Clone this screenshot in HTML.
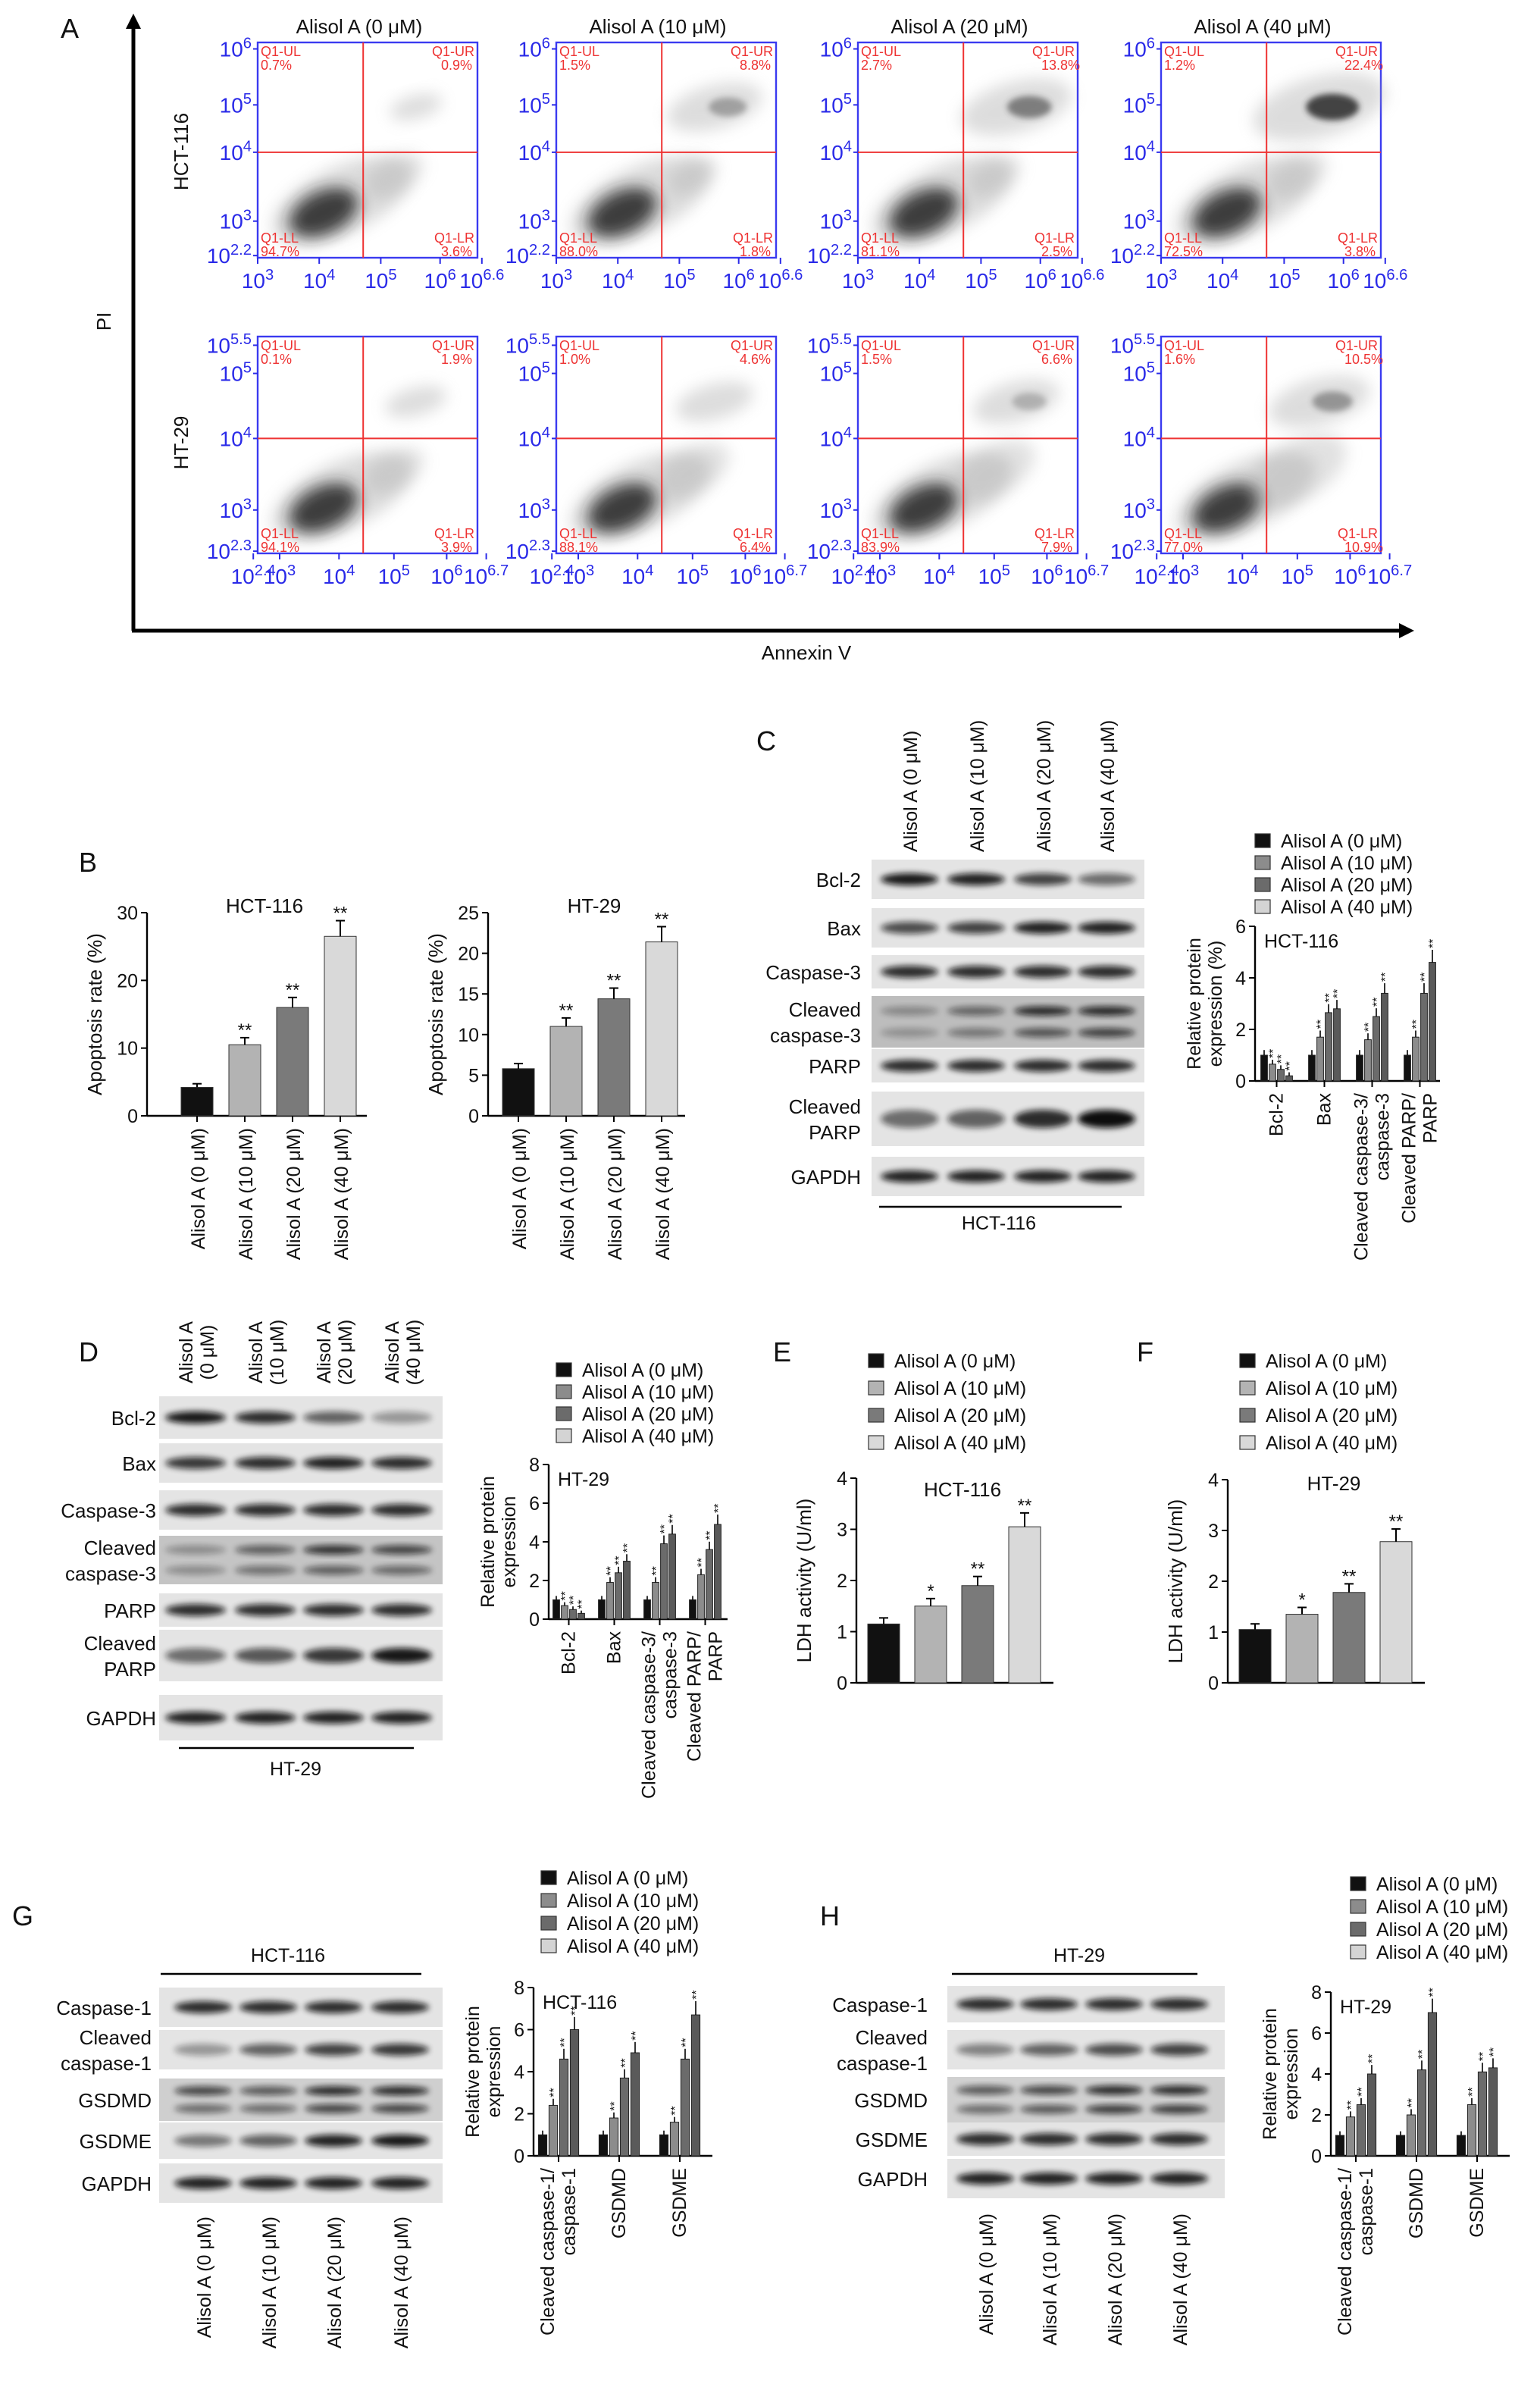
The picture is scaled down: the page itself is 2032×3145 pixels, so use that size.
<!DOCTYPE html>
<html><head><meta charset="utf-8"><style>
html,body{margin:0;padding:0;background:#fff;}
svg{display:block;font-family:"Liberation Sans",Arial,sans-serif;}
</style></head><body>
<svg id="fig" xmlns="http://www.w3.org/2000/svg" width="2032" height="3145" viewBox="0 0 1016 1572.5">
<defs>
<filter id="blur2" x="-50%" y="-50%" width="200%" height="200%"><feGaussianBlur stdDeviation="2"/></filter>
<filter id="blur5" x="-50%" y="-50%" width="200%" height="200%"><feGaussianBlur stdDeviation="5"/></filter>
<filter id="blur1" x="-50%" y="-50%" width="200%" height="200%"><feGaussianBlur stdDeviation="1.2"/></filter>
<marker id="arr" markerWidth="10" markerHeight="10" refX="5" refY="5" orient="auto" markerUnits="userSpaceOnUse"><path d="M0,0 L10,5 L0,10z" fill="#000"/></marker>
</defs>
</svg>
<script>
// ---------- data ----------
const doses = ["Alisol A (0 μM)","Alisol A (10 μM)","Alisol A (20 μM)","Alisol A (40 μM)"];
const flowUL1 = [0.7,1.5,2.7,1.2], flowUR1 = [0.9,8.8,13.8,22.4], flowLL1 = [94.7,88.0,81.1,72.5], flowLR1 = [3.6,1.8,2.5,3.8];
const flowUL2 = [0.1,1.0,1.5,1.6], flowUR2 = [1.9,4.6,6.6,10.5], flowLL2 = [94.1,88.1,83.9,77.0], flowLR2 = [3.9,6.4,7.9,10.9];
const apopHCT = [4.2,10.5,16.0,26.5];
const apopHT = [5.8,11.0,14.4,21.4];
const groupsC = ["Bcl-2","Bax","Cleaved caspase-3/|caspase-3","Cleaved PARP/|PARP"];
const valsC = [[1,0.65,0.45,0.2],[1,1.7,2.65,2.8],[1,1.6,2.5,3.4],[1,1.7,3.4,4.6]];
const groupsD = ["Bcl-2","Bax","Cleaved caspase-3/|caspase-3","Cleaved PARP/|PARP"];
const valsD = [[1,0.7,0.5,0.3],[1,1.9,2.4,3.0],[1,1.9,3.9,4.4],[1,2.3,3.6,4.9]];
const ldhHCT = [1.15,1.5,1.9,3.05];
const ldhHT = [1.05,1.35,1.78,2.78];
const groupsG = ["Cleaved caspase-1/|caspase-1","GSDMD","GSDME"];
const valsG = [[1,2.4,4.6,6.0],[1,1.8,3.7,4.9],[1,1.6,4.6,6.7]];
const valsH = [[1,1.9,2.5,4.0],[1,2.0,4.2,7.0],[1,2.5,4.1,4.3]];
const stars4 = ["","**","**","**"];
const starsLDH = ["","*","**","**"];

const NS="http://www.w3.org/2000/svg";
const svg=document.getElementById('fig');
function el(tag,attrs,parent,text){const e=document.createElementNS(NS,tag);for(const k in attrs)e.setAttribute(k,attrs[k]);if(text!==undefined)e.textContent=text;(parent||svg).appendChild(e);return e;}
function grp(name,parent){const g=el('g',{},parent);return g;}
function txt(p,x,y,s,size,opts){opts=opts||{};const t=el('text',{x:x,y:y,'font-size':size,fill:opts.fill||'#111','text-anchor':opts.anchor||'start'},p,s);if(opts.rot!==undefined)t.setAttribute('transform','rotate('+opts.rot+' '+x+' '+y+')');if(opts.name){}return t;}
function pow(p,x,y,base,exp,size,fill,anchor){const t=el('text',{x:x,y:y,'font-size':size,fill:fill,'text-anchor':anchor||'start'},p);el('tspan',{},t,base);el('tspan',{dy:-size*0.4,'font-size':size*0.72},t,exp);return t;}

// ---------- Panel A ----------
const gA=grp('panel-a');
txt(gA,40,25,'A',18,{name:'panel-label-a'});
el('line',{x1:88,y1:416,x2:88,y2:14,stroke:'#000','stroke-width':2.5,'marker-end':'url(#arr)'},gA);
el('line',{x1:87,y1:416,x2:928,y2:416,stroke:'#000','stroke-width':2.5,'marker-end':'url(#arr)'},gA);
txt(gA,73,212,'PI',13,{rot:-90,anchor:'middle',name:'y-axis-title-pi'});
txt(gA,532,435,'Annexin V',13,{anchor:'middle',name:'x-axis-title-annexin'});
txt(gA,124,100,'HCT-116',13,{rot:-90,anchor:'middle',name:'row-label-hct116'});
txt(gA,124,292,'HT-29',13,{rot:-90,anchor:'middle',name:'row-label-ht29'});
const bx=[170,367,566,766];
function flow(row,i){
  const x0=bx[i],w=145,y0=row?222:28,h=row?143:142;
  const g=grp('flow-plot-'+(row?'ht29':'hct116')+'-'+i,gA);
  if(!row) txt(g,x0+67,22,doses[i],13,{anchor:'middle',name:'flow-title'});
  el('rect',{x:x0,y:y0,width:w,height:h,fill:'#fff',stroke:'#3a3af0','stroke-width':1.2},g);
  const ur=(row?flowUR2:flowUR1)[i], lr=(row?flowLR2:flowLR1)[i];
  const cx=x0+w*0.3, cy=y0+h*0.79;
  el('ellipse',{cx:cx+12,cy:cy-8,rx:50,ry:22,fill:'#999',opacity:0.35,filter:'url(#blur5)',transform:'rotate(-25 '+(cx+12)+' '+(cy-8)+')'},g);
  el('ellipse',{cx:cx,cy:cy,rx:24,ry:14,fill:'#222',opacity:0.85,filter:'url(#blur5)',transform:'rotate(-25 '+cx+' '+cy+')'},g);
  const sc=Math.sqrt(ur)*4+6;
  el('ellipse',{cx:x0+w*0.72,cy:y0+h*0.3,rx:sc*1.8,ry:sc*0.8,fill:'#aaa',opacity:0.4,filter:'url(#blur5)',transform:'rotate(-15 '+(x0+w*0.72)+' '+(y0+h*0.3)+')'},g);
  if(ur>5) el('ellipse',{cx:x0+w*0.78,cy:y0+h*0.3,rx:sc*0.7,ry:sc*0.35,fill:'#333',opacity:Math.min(0.9,ur/25),filter:'url(#blur2)'},g);
  el('ellipse',{cx:x0+w*0.62,cy:y0+h*0.62,rx:14+lr*2,ry:8+lr,fill:'#aaa',opacity:0.35,filter:'url(#blur5)',transform:'rotate(-30 '+(x0+w*0.62)+' '+(y0+h*0.62)+')'},g);
  const vx=x0+w*0.48, hy=y0+h*(row?0.47:0.51);
  el('line',{x1:vx,y1:y0,x2:vx,y2:y0+h,stroke:'#e33','stroke-width':1},g);
  el('line',{x1:x0,y1:hy,x2:x0+w,y2:hy,stroke:'#e33','stroke-width':1},g);
  const rc='#e33',fs=9;
  txt(g,x0+2,y0+9,'Q1-UL',fs,{fill:rc});txt(g,x0+2,y0+18,(row?flowUL2:flowUL1)[i].toFixed(1)+'%',fs,{fill:rc});
  txt(g,x0+w-2,y0+9,'Q1-UR',fs,{fill:rc,anchor:'end'});txt(g,x0+w-24,y0+18,ur.toFixed(1)+'%',fs,{fill:rc});
  txt(g,x0+2,y0+h-10,'Q1-LL',fs,{fill:rc});txt(g,x0+2,y0+h-1,(row?flowLL2:flowLL1)[i].toFixed(1)+'%',fs,{fill:rc});
  txt(g,x0+w-2,y0+h-10,'Q1-LR',fs,{fill:rc,anchor:'end'});txt(g,x0+w-24,y0+h-1,lr.toFixed(1)+'%',fs,{fill:rc});
  const bl='#2a2ae8',ts=14;
  const yl=row?[['5.5',0.04],['5',0.17],['4',0.47],['3',0.80],['2.3',0.99]]:[['6',0.03],['5',0.29],['4',0.51],['3',0.83],['2.2',0.99]];
  yl.forEach(t=>{pow(g,x0-4,y0+h*t[1]+5,'10',t[0],ts,bl,'end');el('line',{x1:x0-3,y1:y0+h*t[1],x2:x0,y2:y0+h*t[1],stroke:bl},g);});
  const xl=row?[['2.4',-0.02],['3',0.1],['4',0.37],['5',0.62],['6',0.86],['6.7',1.04]]:[['3',0],['4',0.28],['5',0.56],['6',0.83],['6.6',1.02]];
  xl.forEach(t=>{pow(g,x0+w*t[1],y0+h+20,'10',t[0],ts,bl,'middle');el('line',{x1:x0+w*t[1],y1:y0+h,x2:x0+w*t[1],y2:y0+h+4,stroke:bl},g);});
}
for(let r=0;r<2;r++)for(let i=0;i<4;i++)flow(r,i);

// ---------- simple bar chart ----------
const shadeSimple=['#111','#b3b3b3','#7a7a7a','#d9d9d9'];
function simpleBar(p,name,o){
  const g=grp(name,p);
  const ys=v=>o.y0-(v/o.max)*(o.y0-o.y1);
  el('line',{x1:o.ax,y1:o.y1,x2:o.ax,y2:o.y0,stroke:'#000','stroke-width':1.2},g);
  el('line',{x1:o.ax,y1:o.y0,x2:o.ax+o.len,y2:o.y0,stroke:'#000','stroke-width':1.2},g);
  o.ticks.forEach(t=>{el('line',{x1:o.ax-4,y1:ys(t),x2:o.ax,y2:ys(t),stroke:'#000'},g);txt(g,o.ax-6,ys(t)+4.5,String(t),12.5,{anchor:'end'});});
  txt(g,o.ax+o.len/2+5,o.tY,o.title,13,{anchor:'middle',name:'chart-title'});
  txt(g,o.ax-30,(o.y0+o.y1)/2,o.ylab,13,{rot:-90,anchor:'middle',name:'y-axis-title'});
  o.vals.forEach((v,i)=>{
    const cx=o.ax+o.first+i*o.step, bw=o.bw;
    const b=el('rect',{x:cx-bw/2,y:ys(v),width:bw,height:o.y0-ys(v),fill:shadeSimple[i],stroke:'#333','stroke-width':0.5},g);
    
    const e=v*0.08+0.2*o.max/30;
    el('line',{x1:cx,y1:ys(v),x2:cx,y2:ys(v+e),stroke:'#000'},g);el('line',{x1:cx-3,y1:ys(v+e),x2:cx+3,y2:ys(v+e),stroke:'#000'},g);
    if(o.stars[i])txt(g,cx,ys(v+e)-1,o.stars[i],12,{anchor:'middle'});
    if(o.xl){txt(g,cx+5,o.y0+8,doses[i],12.5,{rot:-90,anchor:'end'});el('line',{x1:cx,y1:o.y0,x2:cx,y2:o.y0+4,stroke:'#000'},g);}
  });
}
const gB=grp('panel-b');
txt(gB,52,575,'B',18,{name:'panel-label-b'});
simpleBar(gB,'apoptosis-hct116',{ax:97,y0:736,y1:602,max:30,len:145,ticks:[0,10,20,30],vals:apopHCT,first:33,step:31.5,bw:21,title:'HCT-116',tY:602,ylab:'Apoptosis rate (%)',stars:stars4,xl:true});
simpleBar(gB,'apoptosis-ht29',{ax:322,y0:736,y1:602,max:25,len:130,ticks:[0,5,10,15,20,25],vals:apopHT,first:20,step:31.5,bw:21,title:'HT-29',tY:602,ylab:'Apoptosis rate (%)',stars:stars4,xl:true});

// ---------- legend ----------
const shadeLeg=['#111','#8c8c8c','#6b6b6b','#d4d4d4'];
function legend(p,x,y,dy,sh){const g=grp('legend',p);doses.forEach((d,i)=>{const r=el('rect',{x:x,y:y+i*dy-8,width:10,height:9,fill:sh[i],stroke:'#333','stroke-width':0.6},g);txt(g,x+17,y+i*dy+1,d,12.5);});}

// ---------- grouped bar chart ----------
const shadeGrp=['#111','#8c8c8c','#6b6b6b','#5a5a5a'];
function groupBar(p,name,o){
  const g=grp(name,p);
  const ys=v=>o.y0-(v/o.max)*(o.y0-o.y1);
  el('line',{x1:o.ax,y1:o.y1,x2:o.ax,y2:o.y0,stroke:'#000','stroke-width':1.2},g);
  el('line',{x1:o.ax,y1:o.y0,x2:o.ax+o.len,y2:o.y0,stroke:'#000','stroke-width':1.2},g);
  o.ticks.forEach(t=>{el('line',{x1:o.ax-4,y1:ys(t),x2:o.ax,y2:ys(t),stroke:'#000'},g);txt(g,o.ax-6,ys(t)+4.5,String(t),12.5,{anchor:'end'});});
  txt(g,o.ax+6,o.y1+14,o.title,12.5,{name:'chart-title'});
  txt(g,o.ax-36,(o.y0+o.y1)/2,'Relative protein',12.5,{rot:-90,anchor:'middle',name:'y-axis-title'});
  txt(g,o.ax-22,(o.y0+o.y1)/2,o.ylab2,12.5,{rot:-90,anchor:'middle'});
  o.vals.forEach((gv,gi)=>{
    const gx=o.ax+o.first+gi*o.gstep;
    gv.forEach((v,i)=>{
      const cx=gx+i*o.bs, bw=o.bs*0.8;
      const b=el('rect',{x:cx-bw/2,y:ys(v),width:bw,height:o.y0-ys(v),fill:shadeGrp[i],stroke:'#222','stroke-width':0.5},g);
      
      const e=v*0.08+0.12;
      el('line',{x1:cx,y1:ys(v),x2:cx,y2:ys(v+e),stroke:'#000','stroke-width':0.8},g);
      if(i>0)txt(g,cx+3,ys(v+e)-1,'**',8,{rot:-90});
    });
    const mid=gx+o.bs*1.5;
    el('line',{x1:mid,y1:o.y0,x2:mid,y2:o.y0+4,stroke:'#000'},g);
    const parts=o.groups[gi].split('|');
    parts.forEach((s,k)=>{const lx=mid+4+(k-(parts.length-1)/2)*14;txt(g,lx,o.y0+8,s,12.5,{rot:-90,anchor:'end'});});
  });
}

// ---------- western blot ----------
function blot(p,name,o){
  const g=grp(name,p);
  o.rows.forEach(r=>{
    const rg=grp('blot-'+r.name.replace(/\s+/g,'-').toLowerCase(),g);
    el('rect',{x:o.x0,y:r.y-r.h/2,width:o.x1-o.x0,height:r.h,fill:r.bg||'#e4e4e4'},rg);
    r.lab.split('|').forEach((s,k,a)=>txt(rg,o.lx,r.y+5+(k-(a.length-1)/2)*17,s,13,{anchor:'end'}));
    const bands=r.bands||[[0.8,0.8,0.8,0.8]];
    bands.forEach((bd,bi)=>{
      const by=r.y+(bands.length>1?(bi-0.5)*r.h*0.42:0);
      o.cols.forEach((cx,i)=>{
        el('ellipse',{cx:cx,cy:by,rx:o.bw/2,ry:r.bh||4,fill:'#111',opacity:bd[i],filter:'url(#blur2)'},rg);
      });
    });
  });
}

// ---------- Panel C ----------
const gC=grp('panel-c');
txt(gC,499,495,'C',18,{name:'panel-label-c'});
const colC=[600,644,688,730];
colC.forEach((x,i)=>txt(gC,x+5,562,doses[i],12.5,{rot:-90}));
blot(gC,'blots-c',{x0:575,x1:755,lx:568,bw:38,cols:colC,rows:[
 {name:'bcl2',lab:'Bcl-2',y:580,h:26,bands:[[0.95,0.9,0.75,0.55]]},
 {name:'bax',lab:'Bax',y:612,h:26,bands:[[0.7,0.75,0.9,0.9]]},
 {name:'casp3',lab:'Caspase-3',y:641,h:22,bands:[[0.85,0.85,0.85,0.85]]},
 {name:'ccasp3',lab:'Cleaved|caspase-3',y:674,h:34,bg:'#bdbdbd',bands:[[0.3,0.5,0.85,0.85],[0.25,0.4,0.6,0.7]],bh:3},
 {name:'parp',lab:'PARP',y:703,h:22,bands:[[0.85,0.85,0.85,0.85]]},
 {name:'cparp',lab:'Cleaved|PARP',y:738,h:36,bands:[[0.55,0.6,0.85,1]],bh:6},
 {name:'gapdh',lab:'GAPDH',y:776,h:26,bands:[[0.9,0.9,0.9,0.9]]}]});
el('line',{x1:580,y1:796,x2:740,y2:796,stroke:'#000','stroke-width':1.2},gC);
txt(gC,659,811,'HCT-116',12.5,{anchor:'middle',name:'cell-line-label'});
legend(gC,828,558,14.5,shadeLeg);
groupBar(gC,'protein-hct116-c',{ax:828,y0:713,y1:611,max:6,len:122,ticks:[0,2,4,6],title:'HCT-116',ylab2:'expression (%)',vals:valsC,groups:groupsC,first:6,gstep:31.5,bs:5.5});

// ---------- Panel D ----------
const gD=grp('panel-d');
txt(gD,52,898,'D',18,{name:'panel-label-d'});
const colD=[129,175,220,265];
colD.forEach((x,i)=>{txt(gD,x-2,892,'Alisol A',12.5,{rot:-90,anchor:'middle'});txt(gD,x+12,892,doses[i].replace('Alisol A ',''),12.5,{rot:-90,anchor:'middle'});});
blot(gD,'blots-d',{x0:105,x1:292,lx:103,bw:40,cols:colD,rows:[
 {name:'bcl2',lab:'Bcl-2',y:935,h:28,bands:[[0.95,0.85,0.6,0.35]]},
 {name:'bax',lab:'Bax',y:965,h:26,bands:[[0.8,0.85,0.9,0.85]]},
 {name:'casp3',lab:'Caspase-3',y:996,h:26,bands:[[0.85,0.85,0.85,0.85]]},
 {name:'ccasp3',lab:'Cleaved|caspase-3',y:1029,h:32,bg:'#c4c4c4',bands:[[0.3,0.55,0.8,0.7],[0.3,0.45,0.55,0.5]],bh:3},
 {name:'parp',lab:'PARP',y:1062,h:22,bands:[[0.85,0.85,0.85,0.85]]},
 {name:'cparp',lab:'Cleaved|PARP',y:1092,h:34,bands:[[0.55,0.65,0.8,0.95]],bh:5},
 {name:'gapdh',lab:'GAPDH',y:1133,h:30,bands:[[0.9,0.9,0.9,0.9]]}]});
el('line',{x1:118,y1:1153,x2:273,y2:1153,stroke:'#000','stroke-width':1.2},gD);
txt(gD,195,1171,'HT-29',12.5,{anchor:'middle',name:'cell-line-label'});
legend(gD,367,907,14.5,shadeLeg);
groupBar(gD,'protein-ht29-d',{ax:362,y0:1068,y1:966,max:8,len:118,ticks:[0,2,4,6,8],title:'HT-29',ylab2:'expression',vals:valsD,groups:groupsD,first:5,gstep:30,bs:5.5});

// ---------- Panel E, F ----------
const gE=grp('panel-e');
txt(gE,510,898,'E',18,{name:'panel-label-e'});
legend(gE,573,901,18,shadeSimple);
simpleBar(gE,'ldh-hct116',{ax:565,y0:1110,y1:975,max:4,len:130,ticks:[0,1,2,3,4],vals:ldhHCT,first:18,step:31,bw:21,title:'HCT-116',tY:987,ylab:'LDH activity (U/ml)',stars:starsLDH,xl:false});
const gF=grp('panel-f');
txt(gF,750,898,'F',18,{name:'panel-label-f'});
legend(gF,818,901,18,shadeSimple);
simpleBar(gF,'ldh-ht29',{ax:810,y0:1110,y1:976,max:4,len:130,ticks:[0,1,2,3,4],vals:ldhHT,first:18,step:31,bw:21,title:'HT-29',tY:983,ylab:'LDH activity (U/ml)',stars:starsLDH,xl:false});

// ---------- Panel G ----------
const gG=grp('panel-g');
txt(gG,8,1270,'G',18,{name:'panel-label-g'});
txt(gG,190,1294,'HCT-116',12.5,{anchor:'middle',name:'cell-line-label'});
el('line',{x1:106,y1:1302,x2:278,y2:1302,stroke:'#000','stroke-width':1.2},gG);
const colG=[134,177,220,264];
blot(gG,'blots-g',{x0:105,x1:292,lx:100,bw:38,cols:colG,rows:[
 {name:'casp1',lab:'Caspase-1',y:1324,h:26,bands:[[0.85,0.85,0.85,0.85]]},
 {name:'ccasp1',lab:'Cleaved|caspase-1',y:1352,h:26,bands:[[0.35,0.6,0.75,0.8]]},
 {name:'gsdmd',lab:'GSDMD',y:1385,h:28,bg:'#cfcfcf',bands:[[0.7,0.6,0.85,0.85],[0.5,0.5,0.7,0.7]],bh:3},
 {name:'gsdme',lab:'GSDME',y:1412,h:24,bands:[[0.5,0.6,0.9,0.95]]},
 {name:'gapdh',lab:'GAPDH',y:1440,h:26,bands:[[0.9,0.9,0.9,0.9]]}]});
colG.forEach((x,i)=>txt(gG,x+5,1462,doses[i],12.5,{rot:-90,anchor:'end'}));
legend(gG,357,1242,15,shadeLeg);
groupBar(gG,'protein-hct116-g',{ax:352,y0:1422,y1:1311,max:8,len:118,ticks:[0,2,4,6,8],title:'HCT-116',ylab2:'expression',vals:valsG,groups:groupsG,first:6,gstep:40,bs:7});

// ---------- Panel H ----------
const gH=grp('panel-h');
txt(gH,541,1270,'H',18,{name:'panel-label-h'});
txt(gH,712,1294,'HT-29',12.5,{anchor:'middle',name:'cell-line-label'});
el('line',{x1:628,y1:1302,x2:790,y2:1302,stroke:'#000','stroke-width':1.2},gH);
const colH=[650,692,735,778];
blot(gH,'blots-h',{x0:625,x1:808,lx:612,bw:38,cols:colH,rows:[
 {name:'casp1',lab:'Caspase-1',y:1322,h:24,bands:[[0.85,0.85,0.85,0.85]]},
 {name:'ccasp1',lab:'Cleaved|caspase-1',y:1352,h:26,bands:[[0.45,0.6,0.7,0.75]]},
 {name:'gsdmd',lab:'GSDMD',y:1385,h:30,bg:'#d0d0d0',bands:[[0.6,0.7,0.85,0.85],[0.5,0.6,0.75,0.75]],bh:3},
 {name:'gsdme',lab:'GSDME',y:1411,h:22,bands:[[0.85,0.85,0.85,0.85]]},
 {name:'gapdh',lab:'GAPDH',y:1437,h:26,bands:[[0.9,0.9,0.9,0.9]]}]});
colH.forEach((x,i)=>txt(gH,x+5,1460,doses[i],12.5,{rot:-90,anchor:'end'}));
legend(gH,891,1246,15,shadeLeg);
groupBar(gH,'protein-ht29-h',{ax:878,y0:1422,y1:1314,max:8,len:118,ticks:[0,2,4,6,8],title:'HT-29',ylab2:'expression',vals:valsH,groups:groupsG,first:6,gstep:40,bs:7});
</script>
</body></html>
